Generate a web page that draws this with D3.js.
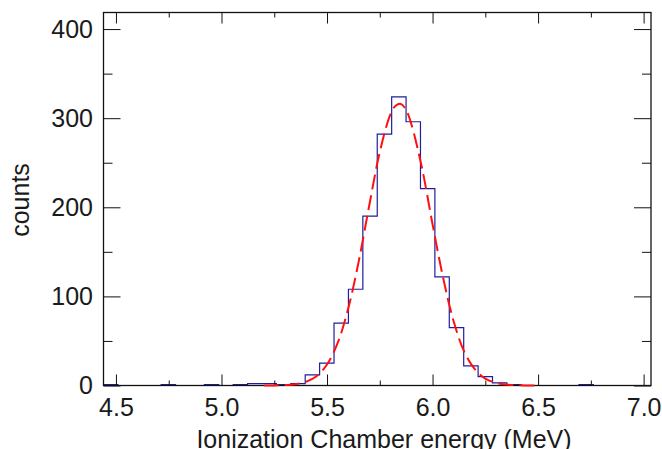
<!DOCTYPE html>
<html>
<head>
<meta charset="utf-8">
<script src="https://cdn.jsdelivr.net/npm/d3@7"></script>
<style>
  html, body { margin: 0; padding: 0; background: #fff; }
  svg { display: block; }
  text { font-family: "Liberation Sans", Arial, Helvetica, sans-serif; fill: #1a1a1a; }
</style>
</head>
<body>
<svg id="chart" width="662" height="449"></svg>
<script>
// Histogram of ionization chamber energy: 38 equal bins over the plotted range
const energyRange = [4.441, 7.035];
const binCounts = [
  1, 0, 0, 0, 1, 0, 0, 1, 0, 1,
  2, 2, 1, 2, 12, 25, 70, 108, 190, 282,
  324, 296, 221, 122, 65, 22, 10, 3, 1, 0,
  0, 0, 0, 1, 0, 0, 0, 0
];

// Gaussian fit curve, sampled along energy
const fitEnergy = [5.20, 5.25, 5.30, 5.35, 5.40, 5.45, 5.50, 5.55, 5.60, 5.65,
                   5.70, 5.75, 5.80, 5.825, 5.85, 5.875, 5.90, 5.95, 6.00, 6.05,
                   6.10, 6.15, 6.20, 6.25, 6.30, 6.35, 6.40, 6.45, 6.50];
const fitCounts = [0.0, 0.1, 0.5, 1.5, 4.1, 10.4, 23.5, 47.5, 86, 139,
                   202, 262, 304, 314, 316, 309, 293, 244, 181, 121,
                   72, 38, 18.3, 7.8, 3.0, 1.0, 0.3, 0.1, 0.0];

// Axis ticks and labels
const xMajorTicks = [4.5, 5.0, 5.5, 6.0, 6.5, 7.0];
const xTickLabels = ["4.5", "5.0", "5.5", "6.0", "6.5", "7.0"];
const xMinorTicks = [4.75, 5.25, 5.75, 6.25, 6.75];
const yMajorTicks = [0, 100, 200, 300, 400];
const yTickLabels = ["0", "100", "200", "300", "400"];
const yMinorTicks = [50, 150, 250, 350];
const countMax = 418.6;

const xLabel = "Ionization Chamber energy (MeV)";
const yLabel = "counts";

const svg = d3.select("#chart");
const frame = { left: 103.5, right: 651, top: 12.5, bottom: 385.5 };

const x = d3.scaleLinear().domain(energyRange).range([frame.left, frame.right]);
const y = d3.scaleLinear().domain([0, countMax]).range([frame.bottom, frame.top]);

// Histogram as a step outline
const nBins = binCounts.length;
const binWidth = (energyRange[1] - energyRange[0]) / nBins;
const stepPoints = binCounts.map((c, i) => [energyRange[0] + i * binWidth, c]);
stepPoints.push([energyRange[1], binCounts[nBins - 1]]);

const stepLine = d3.line()
  .x(d => x(d[0]))
  .y(d => y(d[1]))
  .curve(d3.curveStepAfter);

svg.append("path")
  .datum(stepPoints)
  .attr("d", stepLine)
  .attr("fill", "none")
  .attr("stroke", "#1f1f9e")
  .attr("stroke-width", 1.2);

// Frame and inward ticks on all four sides
function styleAxis(g) {
  g.select(".domain").remove();
  g.selectAll(".tick line").attr("stroke", "#111").attr("stroke-width", 1);
  g.selectAll(".tick text").style("font-size", "25px").attr("fill", "#1a1a1a");
}

const fmtX = d => xTickLabels[xMajorTicks.indexOf(d)];
const fmtY = d => yTickLabels[yMajorTicks.indexOf(d)];

svg.append("g")
  .attr("transform", `translate(0,${frame.bottom})`)
  .call(d3.axisBottom(x).tickValues(xMajorTicks).tickFormat(fmtX).tickSize(-11).tickPadding(12.5))
  .call(styleAxis);
svg.append("g")
  .attr("transform", `translate(0,${frame.bottom})`)
  .call(d3.axisBottom(x).tickValues(xMinorTicks).tickFormat("").tickSize(-5))
  .call(styleAxis);
svg.append("g")
  .attr("transform", `translate(0,${frame.top})`)
  .call(d3.axisTop(x).tickValues(xMajorTicks).tickFormat("").tickSize(-11))
  .call(styleAxis);
svg.append("g")
  .attr("transform", `translate(0,${frame.top})`)
  .call(d3.axisTop(x).tickValues(xMinorTicks).tickFormat("").tickSize(-5))
  .call(styleAxis);

svg.append("g")
  .attr("transform", `translate(${frame.left},0)`)
  .call(d3.axisLeft(y).tickValues(yMajorTicks).tickFormat(fmtY).tickSize(-17).tickPadding(10.5))
  .call(styleAxis);
svg.append("g")
  .attr("transform", `translate(${frame.left},0)`)
  .call(d3.axisLeft(y).tickValues(yMinorTicks).tickFormat("").tickSize(-9))
  .call(styleAxis);
svg.append("g")
  .attr("transform", `translate(${frame.right},0)`)
  .call(d3.axisRight(y).tickValues(yMajorTicks).tickFormat("").tickSize(-17))
  .call(styleAxis);
svg.append("g")
  .attr("transform", `translate(${frame.right},0)`)
  .call(d3.axisRight(y).tickValues(yMinorTicks).tickFormat("").tickSize(-9))
  .call(styleAxis);

svg.append("rect")
  .attr("x", frame.left)
  .attr("y", frame.top)
  .attr("width", frame.right - frame.left)
  .attr("height", frame.bottom - frame.top)
  .attr("fill", "none")
  .attr("stroke", "#111")
  .attr("stroke-width", 1.3);

// Dashed Gaussian fit on top
const fitLine = d3.line()
  .x((d, i) => x(fitEnergy[i]))
  .y(d => y(d))
  .curve(d3.curveCatmullRom);

svg.append("path")
  .datum(fitCounts)
  .attr("d", fitLine)
  .attr("fill", "none")
  .attr("stroke", "#ff1010")
  .attr("stroke-width", 2)
  .attr("stroke-dasharray", "15,6");

// Axis titles
svg.append("text")
  .attr("x", 384)
  .attr("y", 447.5)
  .attr("text-anchor", "middle")
  .style("font-size", "25px")
  .text(xLabel);

svg.append("text")
  .attr("transform", "translate(29,200) rotate(-90)")
  .attr("text-anchor", "middle")
  .style("font-size", "25px")
  .text(yLabel);
</script>
</body>
</html>
